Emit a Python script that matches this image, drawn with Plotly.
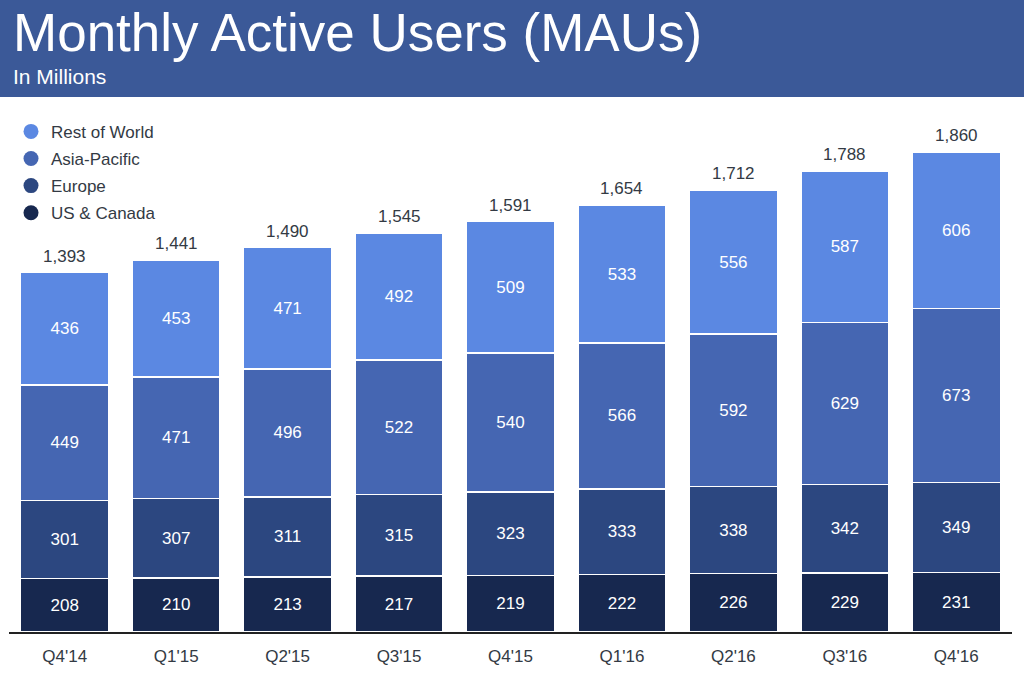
import plotly.graph_objects as go

quarters = ["Q4'14", "Q1'15", "Q2'15", "Q3'15", "Q4'15", "Q1'16", "Q2'16", "Q3'16", "Q4'16"]
us_canada = [208, 210, 213, 217, 219, 222, 226, 229, 231]
europe = [301, 307, 311, 315, 323, 333, 338, 342, 349]
asia_pacific = [449, 471, 496, 522, 540, 566, 592, 629, 673]
rest_of_world = [436, 453, 471, 492, 509, 533, 556, 587, 606]
totals = [1393, 1441, 1490, 1545, 1591, 1654, 1712, 1788, 1860]

series = [
    ("US & Canada", us_canada, "#17284f"),
    ("Europe", europe, "#2c4780"),
    ("Asia-Pacific", asia_pacific, "#4566b2"),
    ("Rest of World", rest_of_world, "#5b88e2"),
]

font = "Liberation Sans, Arial, Helvetica, sans-serif"

fig = go.Figure()

for name, vals, color in series:
    fig.add_trace(go.Bar(
        x=quarters, y=vals, name=name,
        marker=dict(color=color, line=dict(color="white", width=1.5)),
        text=vals, textposition="inside", insidetextanchor="middle",
        textangle=0, textfont=dict(color="white", size=17, family=font),
        showlegend=False, hoverinfo="skip",
    ))

# legend entries with round markers, top to bottom
for name, vals, color in reversed(series):
    fig.add_trace(go.Scatter(
        x=[None], y=[None], mode="markers", name=name,
        marker=dict(color=color, size=15, symbol="circle"),
        legendgroup=name,
    ))

for q, t in zip(quarters, totals):
    fig.add_annotation(x=q, y=t, text=f"{t:,}", showarrow=False,
                       yanchor="bottom", yshift=5,
                       font=dict(size=17, color="#333a44", family=font))

# header band
fig.add_shape(type="rect", xref="paper", yref="paper",
              x0=-0.05, x1=1.05, y0=1 + 3 / 532, y1=1.25,
              fillcolor="#3b5998", line=dict(width=0), layer="below")
fig.add_annotation(xref="paper", yref="paper", x=2 / 1003, y=1 + (100 - 33) / 532,
                   text="Monthly Active Users (MAUs)", showarrow=False,
                   xanchor="left", yanchor="middle",
                   font=dict(size=53, color="white", family=font))
fig.add_annotation(xref="paper", yref="paper", x=2 / 1003, y=1 + (100 - 76) / 532,
                   text="In Millions", showarrow=False,
                   xanchor="left", yanchor="middle",
                   font=dict(size=21, color="white", family=font))

fig.update_layout(
    width=1024, height=674,
    barmode="stack", bargap=0.21,
    margin=dict(l=9, r=12, t=100, b=42),
    plot_bgcolor="white", paper_bgcolor="white",
    legend=dict(x=0.002, y=0.974, xanchor="left", yanchor="top",
                traceorder="grouped", tracegroupgap=2,
                font=dict(size=17, color="#333a44", family=font),
                bgcolor="rgba(0,0,0,0)"),
    xaxis=dict(showline=True, linecolor="#222222", linewidth=1.5,
               ticks="", ticklabelstandoff=8,
               tickfont=dict(size=17, color="#333a44", family=font),
               range=[-0.5, 8.5]),
    yaxis=dict(visible=False, range=[0, 532 / 0.258]),
)

fig.write_html("out.html", config={"displayModeBar": False},
               post_script="document.body.style.margin='0';")
